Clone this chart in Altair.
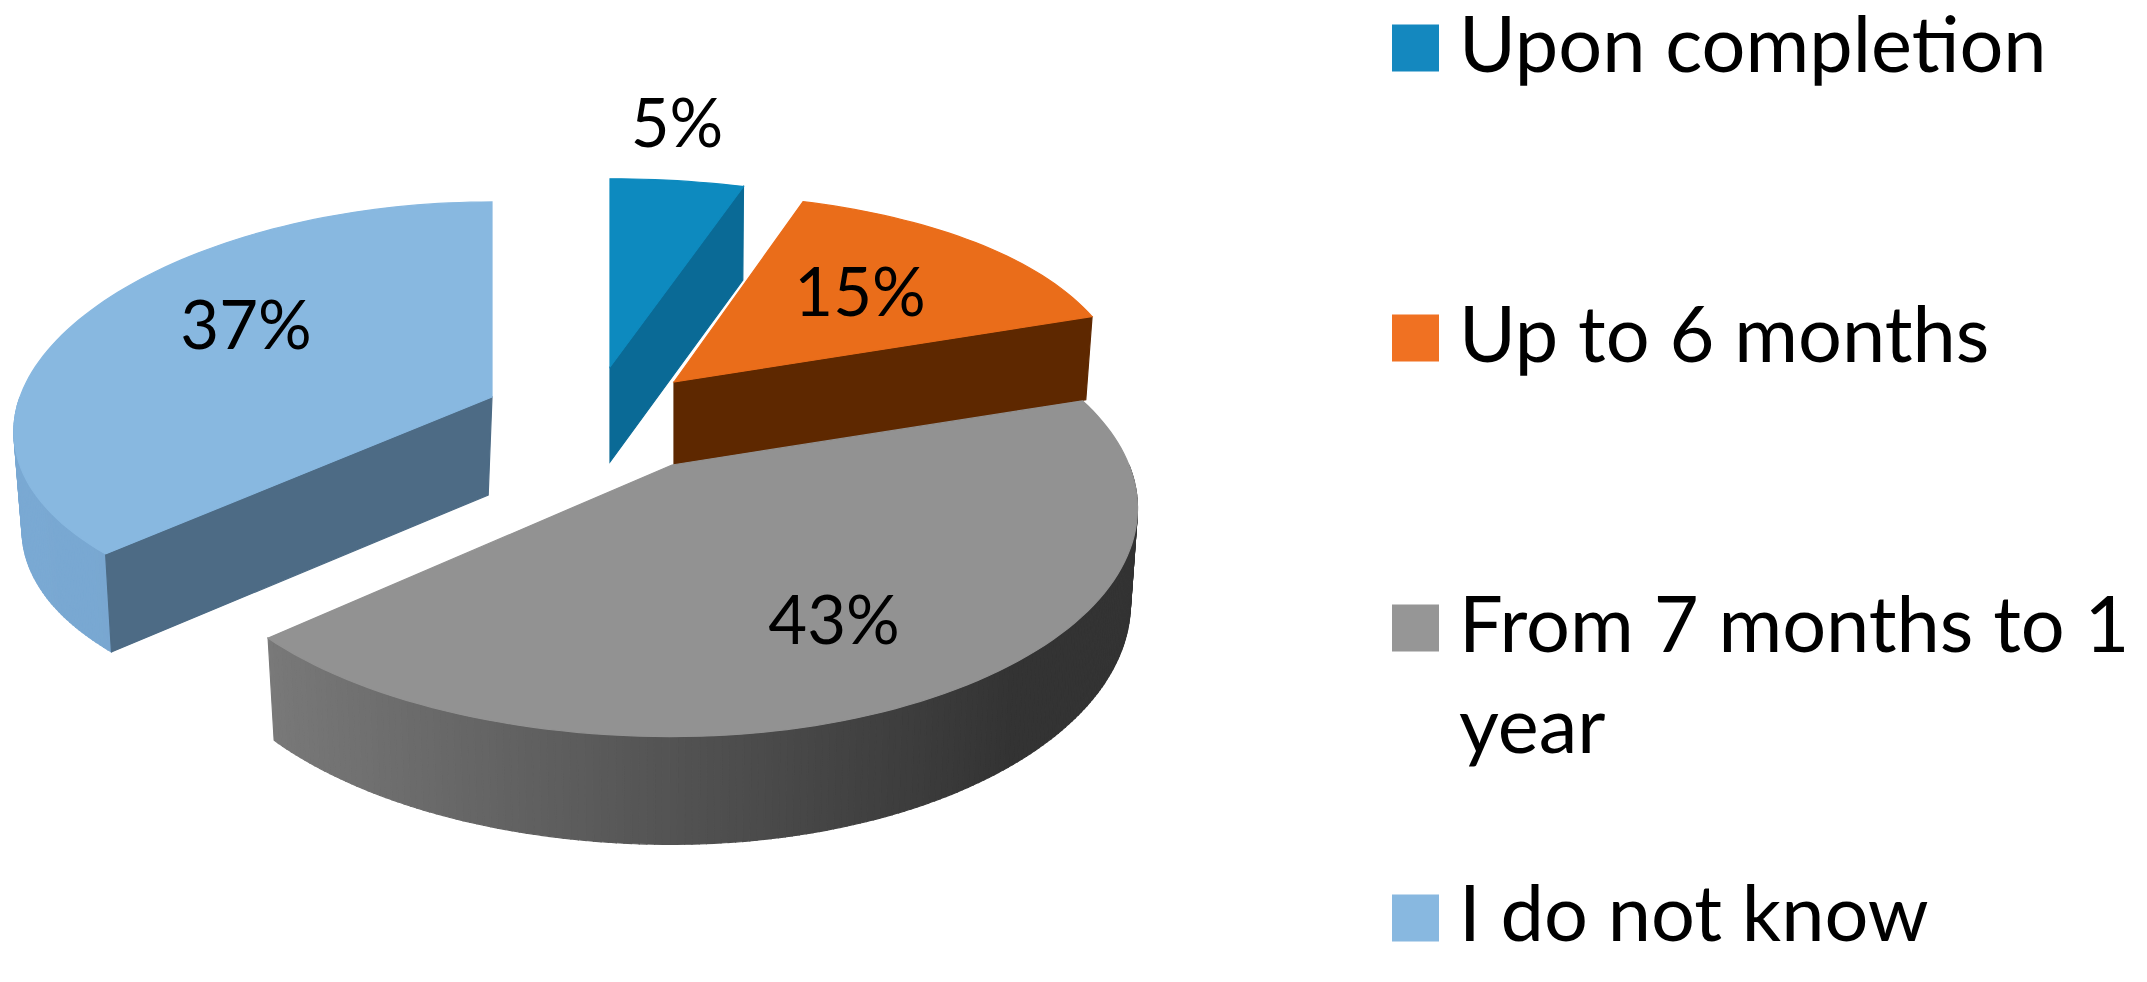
import math
import altair as alt

# --- data ---
categories = ["Upon completion", "Up to 6 months", "From 7 months to 1 year", "I do not know"]
shares = [5, 15, 43, 37]
percent_labels = ["5%", "15%", "43%", "37%"]
legend_lines = [["Upon completion"], ["Up to 6 months"], ["From 7 months to 1", "year"], ["I do not know"]]

# --- styles ---
top_colors = ["#0d8abf", "#ea6d1a", "#929292", "#88b8e0"]
face_colors = ["#0a6a96", "#5e2800", "#4a4a4a", "#4d6b85"]
side_left = ["#0a6a96", "#5e2800", "#808080", "#7aa9d3"]
side_right = ["#0a6a96", "#5e2800", "#333333", "#6d99c2"]
legend_colors = ["#1488bf", "#f07122", "#969696", "#88b8e0"]

# --- layout (reference pixels) ---
PAGE = 8
persp = [0.19, 0.19, 0.19, 0.097]
persp_x = [0.19, 0.084, 0.19, 0.16]
centers = [(610, 367), (674, 382), (672, 465), (492, 397)]
radius_right = [510, 451, 457, 472]
radius_left = [510, 451, 482, 472]
radius_y = [224, 224, 220, 214]
thickness = [95, 88, 92, 98]
wall_pow = [0.1, 1.0, 0.75, 0.0]
shrink = [0.995, 0.985, 0.985, 0.975]
vanish_x = [610, 674, 672, 340]
label_x = [677, 860, 834, 246]
label_y = [147, 316, 644, 349]
legend_sq_x = 1415.5
legend_sq_y = [48, 338, 628, 918]
legend_text_x = 1459
legend_base_y = [[72], [362], [652, 753], [941]]
draw_order = [0, 1, 3, 2]


def hex2rgb(h):
    return [int(h[i:i + 2], 16) for i in (1, 3, 5)]


def lerp(a, b, t):
    ca, cb = hex2rgb(a), hex2rgb(b)
    return "#" + "".join(f"{round(x + (y - x) * t):02x}" for x, y in zip(ca, cb))


def top(i, deg):
    th = math.radians(deg)
    v = -math.cos(th)
    s = 1 / (1 - persp[i] * v)
    sx = 1 / (1 - persp_x[i] * v)
    sn = math.sin(th)
    r = radius_right[i] if sn >= 0 else radius_left[i]
    return (centers[i][0] + r * sn * sx, centers[i][1] + radius_y[i] * v * s, s)


def bottom_of(i, x, y, s):
    return (vanish_x[i] + shrink[i] * (x - vanish_x[i]), y + thickness[i] * s ** wall_pow[i])


def feature(points, color):
    ring = [[round(a, 2), round(b, 2)] for a, b in points]
    ring.append(ring[0])
    return {"type": "Feature", "properties": {"color": color},
            "geometry": {"type": "Polygon", "coordinates": [ring]}}


starts = []
acc = 0.0
for sh in shares:
    starts.append(acc)
    acc += sh * 3.6

features = []
for i in draw_order:
    a0, a1 = starts[i], starts[i] + shares[i] * 3.6
    # outer wall
    lo, hi = max(a0, 90.0), min(a1, 270.0)
    if hi > lo:
        n = max(4, int((hi - lo) / 0.75))
        for j in range(n):
            p, q = lo + (hi - lo) * j / n, lo + (hi - lo) * (j + 1) / n
            xp, yp, sp = top(i, p)
            xq, yq, sq = top(i, q)
            bp, bq = bottom_of(i, xp, yp, sp), bottom_of(i, xq, yq, sq)
            xs = (xp + xq) / 2
            left = centers[i][0] - radius_left[i]
            right = centers[i][0] + radius_right[i] * 0.75
            t = min(1, max(0, (xs - left) / (right - left)))
            features.append(feature([(xp, yp), (xq, yq), bq, bp], lerp(side_left[i], side_right[i], t)))
    # radial walls facing the viewer
    for ang, normal in ((a0, a0 - 90), (a1, a1 + 90)):
        if -math.cos(math.radians(normal)) > 0.01:
            xe, ye, se = top(i, ang)
            cx, cy = centers[i]
            features.append(feature([(cx, cy), (xe, ye), bottom_of(i, xe, ye, se),
                                     bottom_of(i, cx, cy, 1.0)], face_colors[i]))
    # top face
    n = max(8, int((a1 - a0) / 1.5))
    ring = [centers[i]] + [top(i, a0 + (a1 - a0) * j / n)[:2] for j in range(n + 1)]
    features.append(feature(ring, top_colors[i]))

pie = alt.Chart(alt.Data(values=features)).mark_geoshape(strokeWidth=1.2).encode(
    color=alt.Color("properties.color:N", scale=None, legend=None),
    stroke=alt.Stroke("properties.color:N", scale=None, legend=None),
).project(type="identity", scale=1, translate=[-PAGE, -PAGE])

labels = alt.Chart(alt.Data(values=[
    {"t": t, "x": x - PAGE, "y": y - PAGE} for t, x, y in zip(percent_labels, label_x, label_y)
])).mark_text(font="Lato", fontSize=67, baseline="alphabetic", align="center", color="#000000").encode(
    x=alt.X("x:Q", scale=None, axis=None),
    y=alt.Y("y:Q", scale=None, axis=None),
    text="t:N",
)

squares = alt.Chart(alt.Data(values=[
    {"c": c, "x": legend_sq_x - PAGE, "y": y - PAGE} for c, y in zip(legend_colors, legend_sq_y)
])).mark_square(size=47 * 47, opacity=1, filled=True).encode(
    x=alt.X("x:Q", scale=None, axis=None),
    y=alt.Y("y:Q", scale=None, axis=None),
    color=alt.Color("c:N", scale=None, legend=None),
)

legend_rows = []
for lines, bases in zip(legend_lines, legend_base_y):
    for line, base in zip(lines, bases):
        legend_rows.append({"t": line, "x": legend_text_x - PAGE, "y": base - PAGE})

legend_text = alt.Chart(alt.Data(values=legend_rows)).mark_text(
    font="Lato", fontSize=77.5, baseline="alphabetic", align="left", color="#000000"
).encode(
    x=alt.X("x:Q", scale=None, axis=None),
    y=alt.Y("y:Q", scale=None, axis=None),
    text="t:N",
)

chart = alt.layer(pie, labels, squares, legend_text).properties(
    width=2131, height=960, padding=0
).configure_view(stroke=None)

chart.save("out.html", embed_options={"renderer": "svg", "actions": False})
